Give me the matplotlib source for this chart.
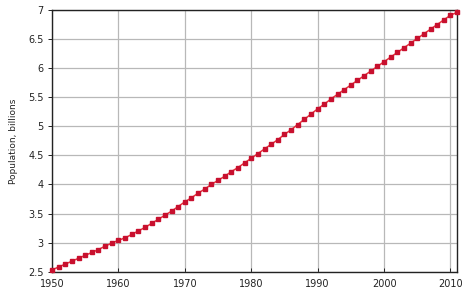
import matplotlib
matplotlib.use("Agg")
import matplotlib.pyplot as plt
import numpy as np

years = list(range(1950, 2012))
population = [2.53, 2.58, 2.63, 2.68, 2.73, 2.78, 2.83, 2.88, 2.94, 2.99,
              3.04, 3.08, 3.14, 3.20, 3.26, 3.33, 3.40, 3.47, 3.54, 3.62,
              3.70, 3.77, 3.85, 3.92, 4.00, 4.07, 4.14, 4.22, 4.29, 4.37,
              4.45, 4.53, 4.61, 4.69, 4.77, 4.86, 4.94, 5.03, 5.12, 5.21,
              5.30, 5.38, 5.47, 5.55, 5.63, 5.71, 5.79, 5.87, 5.95, 6.03,
              6.11, 6.19, 6.27, 6.35, 6.43, 6.51, 6.59, 6.67, 6.75, 6.83,
              6.91, 6.96]
xticks = [1950, 1960, 1970, 1980, 1990, 2000, 2010]
yticks = [2.5, 3, 3.5, 4, 4.5, 5, 5.5, 6, 6.5, 7]
ytick_labels = ["2.5", "3", "3.5", "4", "4.5", "5", "5.5", "6", "6.5", "7"]

fig = plt.figure(figsize=(4.7, 2.94), dpi=100)
ax = fig.add_axes([0.1106, 0.076, 0.862, 0.89])
ax.plot(years, population, color="#e8303a", lw=1.1, marker="s", ms=2.4,
        mfc="#c8102e", mec="#c8102e", zorder=3, clip_on=False)
ax.set_xlim(1950, 2011)
ax.set_ylim(2.5, 7)
ax.set_xticks(xticks)
ax.set_yticks(yticks)
ax.set_yticklabels(ytick_labels)
ax.grid(True, color="#b8b8b8", lw=0.9)
ax.set_axisbelow(True)
for s in ax.spines.values():
    s.set_color("#222222")
    s.set_linewidth(1.0)
ax.tick_params(axis="both", labelsize=7, colors="#222222", length=3, width=0.7)
ax.tick_params(axis="y", direction="out", pad=3)
ax.tick_params(axis="x", direction="in", pad=5)

sec = ax.secondary_yaxis("right")
sec.set_yticks(yticks)
sec.tick_params(direction="in", length=3, width=0.7, colors="#222222",
                labelright=False)
sec.spines["right"].set_visible(False)

ax.set_ylabel("Population, billions", fontsize=6.5, color="#222222", labelpad=7)
fig.savefig("out.png", dpi=100)
